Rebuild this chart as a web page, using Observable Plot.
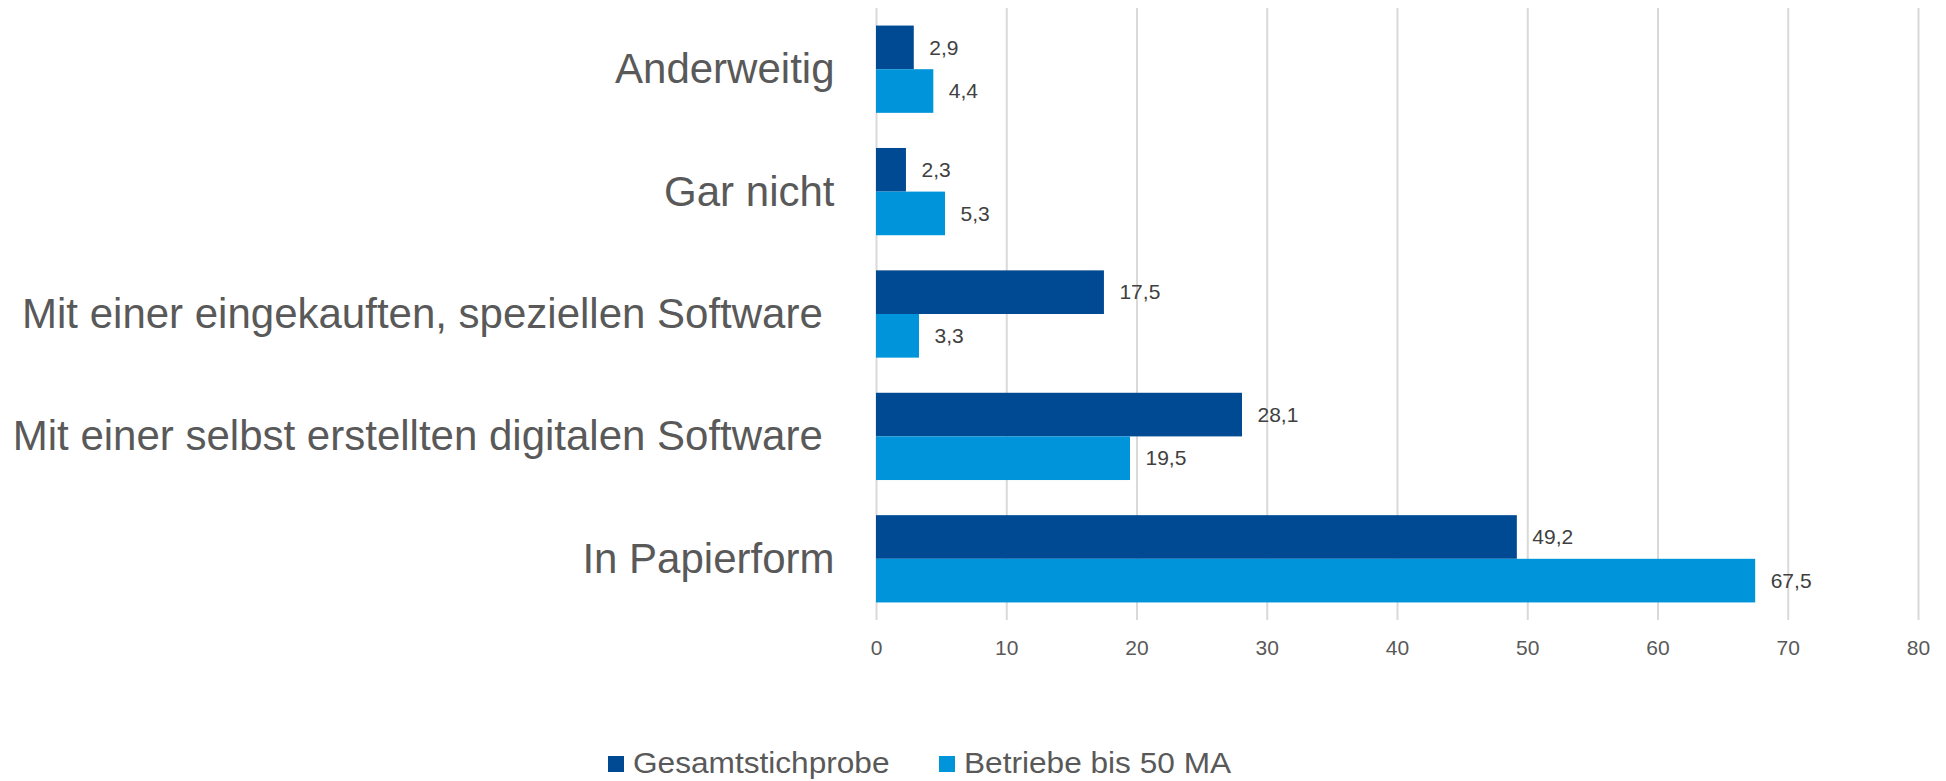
<!DOCTYPE html>
<html>
<head>
<meta charset="utf-8">
<script src="https://cdn.jsdelivr.net/npm/d3@7"></script>
<script src="https://cdn.jsdelivr.net/npm/@observablehq/plot@0.6"></script>
<style>
  html, body { margin: 0; padding: 0; background: #ffffff; }
  body { width: 1946px; height: 781px; overflow: hidden; font-family: "Liberation Sans", Arial, sans-serif; }
  #chart svg text { white-space: pre; }
  #legend { position: relative; height: 51px; }
  .item { position: absolute; top: 19px; display: flex; align-items: center; font-size: 29px; color: #595959; line-height: 1; }
  .sw { width: 16px; height: 16px; margin-right: 9px; }
  .lbl { display: inline-block; transform: scaleX(1.09); transform-origin: left center; }
</style>
</head>
<body>
<div id="chart"></div>
<div id="legend"></div>
<script>
// ---- data ----
const categories = [
  "Anderweitig",
  "Gar nicht",
  "Mit einer eingekauften, speziellen Software ",
  "Mit einer selbst erstellten digitalen Software ",
  "In Papierform"
];
const seriesNames = ["Gesamtstichprobe", "Betriebe bis 50 MA"];
const gesamt = [2.9, 2.3, 17.5, 28.1, 49.2];
const betriebe = [4.4, 5.3, 3.3, 19.5, 67.5];
const xTicks = [0, 10, 20, 30, 40, 50, 60, 70, 80];

// ---- styles ----
const colors = ["#004a94", "#0095da"];
const W = 1946, H = 730, mTop = 8, mBottom = 110, mLeft = 876, mRight = 28;
const padInner = 0.287, padOuter = padInner / 2;
const step = (H - mTop - mBottom) / (categories.length - padInner + 2 * padOuter);
const bw = step * (1 - padInner);

const rows = categories.map((c, i) => ({category: c, gesamt: gesamt[i], betriebe: betriebe[i]}));
const fmt = v => v.toFixed(1).replace(".", ",");

const chart = Plot.plot({
  width: W,
  height: H,
  marginTop: mTop,
  marginBottom: mBottom,
  marginLeft: mLeft,
  marginRight: mRight,
  style: {fontFamily: "'Liberation Sans', Arial, sans-serif", background: "#ffffff"},
  x: {domain: [0, 80]},
  y: {domain: categories, paddingInner: padInner, paddingOuter: padOuter, round: false},
  marks: [
    Plot.gridX(xTicks, {stroke: "#d9d9d9", strokeOpacity: 1, strokeWidth: 2}),
    Plot.barX(rows, {x: "gesamt", y: "category", fill: colors[0], insetBottom: bw / 2}),
    Plot.barX(rows, {x: "betriebe", y: "category", fill: colors[1], insetTop: bw / 2}),
    Plot.text(rows, {x: "gesamt", y: "category", text: d => fmt(d.gesamt), dy: -bw / 4, dx: 15, textAnchor: "start", fontSize: 21, fill: "#404040"}),
    Plot.text(rows, {x: "betriebe", y: "category", text: d => fmt(d.betriebe), dy: bw / 4, dx: 15, textAnchor: "start", fontSize: 21, fill: "#404040"}),
    Plot.axisX(xTicks, {tickSize: 0, tickPadding: 20, fontSize: 21, fill: "#595959", label: null}),
    Plot.axisY({tickSize: 0, tickPadding: 42, fontSize: 42, fill: "#595959", label: null})
  ]
});
document.getElementById("chart").appendChild(chart);

// ---- legend ----
const legend = document.getElementById("legend");
const lefts = [608, 939];
seriesNames.forEach((name, i) => {
  const item = document.createElement("div");
  item.className = "item";
  item.style.left = lefts[i] + "px";
  const sw = document.createElement("span");
  sw.className = "sw";
  sw.style.background = colors[i];
  const t = document.createElement("span");
  t.className = "lbl";
  t.textContent = name;
  item.appendChild(sw);
  item.appendChild(t);
  legend.appendChild(item);
});
</script>
</body>
</html>
